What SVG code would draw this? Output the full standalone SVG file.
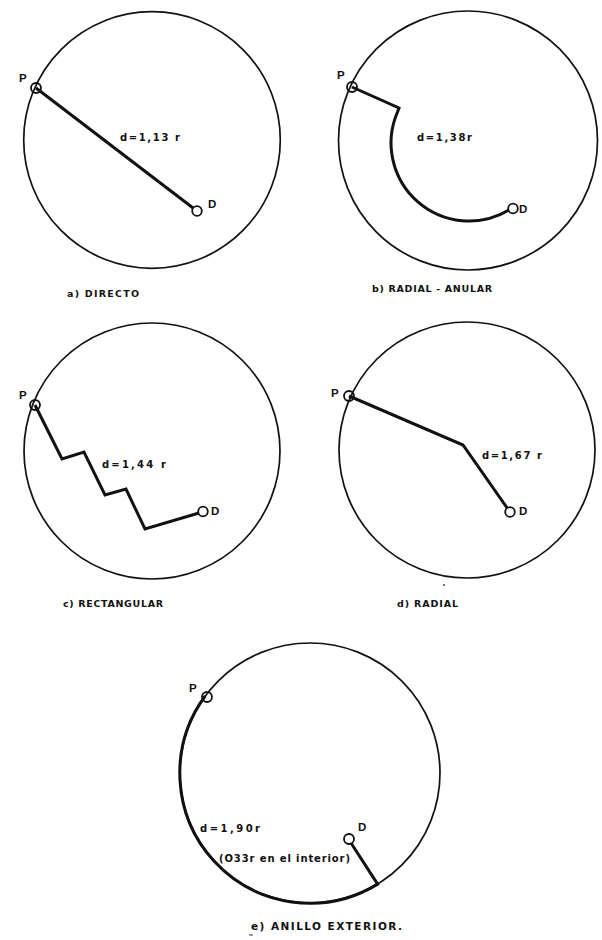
<svg xmlns="http://www.w3.org/2000/svg" width="602" height="940" viewBox="0 0 602 940">
<style>
.ring{fill:none;stroke:#111;stroke-width:1.7}
.route{fill:none;stroke:#111;stroke-width:3;stroke-linejoin:miter;stroke-linecap:butt}
.pt{fill:none;stroke:#111;stroke-width:1.8}
.dt{fill:#fff;stroke:#111;stroke-width:1.8}
.lbl{font-family:"DejaVu Sans","Liberation Sans",sans-serif;font-weight:bold;font-size:10px;fill:#111}
.cap{font-family:"DejaVu Sans","Liberation Sans",sans-serif;font-weight:bold;font-size:9.5px;fill:#111}
.pd{font-family:"Liberation Sans",Arial,sans-serif;font-weight:bold;font-size:11.5px;fill:#111}
</style>
<rect width="602" height="940" fill="#fff"/>

<g id="connectors">
  <path class="route" d="M36,88 L197,211"/>
  <path class="route" d="M352,87 L399,108 L397.5,112 A78 78 0 0 0 509,210"/>
  <path class="route" d="M35,405 L62,459 L84,452 L105,495 L126,489 L145,529 L199,513"/>
  <path class="route" d="M349,396 L463,445 L510,512"/>
  <path class="route" d="M205.2,696 A130 130 0 0 0 377.6,884.1 L351,843"/>
</g>

<g id="panel-a">
  <circle class="ring" cx="152" cy="140" r="128.3"/>
  <circle class="pt" cx="36" cy="88" r="5"/>
  <circle class="dt" cx="197" cy="211" r="4.8"/>
  <text class="pd" x="19" y="82">P</text>
  <text class="pd" x="208" y="208">D</text>
  <text class="lbl" x="120" y="141" textLength="60" lengthAdjust="spacing">d=1,13 r</text>
  <text class="cap" x="67" y="297" textLength="72" lengthAdjust="spacing">a) DIRECTO</text>
</g>

<g id="panel-b">
  <circle class="ring" cx="468" cy="140.5" r="129.5"/>
  <circle class="pt" cx="352" cy="87" r="5"/>
  <circle class="dt" cx="513" cy="208.5" r="4.8"/>
  <text class="pd" x="337" y="79">P</text>
  <text class="pd" x="519" y="213">D</text>
  <text class="lbl" x="417" y="141" textLength="55" lengthAdjust="spacing">d=1,38r</text>
  <text class="cap" x="372" y="292" textLength="120" lengthAdjust="spacing">b) RADIAL - ANULAR</text>
</g>

<g id="panel-c">
  <circle class="ring" cx="152" cy="451" r="128"/>
  <circle class="pt" cx="35" cy="405" r="5"/>
  <circle class="dt" cx="203" cy="511.5" r="4.8"/>
  <text class="pd" x="19" y="399">P</text>
  <text class="pd" x="211" y="515">D</text>
  <text class="lbl" x="102" y="468" textLength="64" lengthAdjust="spacing">d=1,44 r</text>
  <text class="cap" x="63" y="607" textLength="100" lengthAdjust="spacing">c) RECTANGULAR</text>
</g>

<g id="panel-d">
  <circle class="ring" cx="467" cy="450" r="128"/>
  <circle class="pt" cx="349" cy="396" r="5"/>
  <circle class="dt" cx="510" cy="512" r="4.8"/>
  <text class="pd" x="331" y="397">P</text>
  <text class="pd" x="519" y="515">D</text>
  <text class="lbl" x="482" y="459" textLength="60" lengthAdjust="spacing">d=1,67 r</text>
  <text class="cap" x="397" y="607" textLength="61" lengthAdjust="spacing">d) RADIAL</text>
  <circle cx="444" cy="585" r="0.9" fill="#333"/>
</g>

<g id="panel-e">
  <circle class="ring" cx="310" cy="773" r="130"/>
  <circle class="pt" cx="207" cy="697" r="5"/>
  <circle class="dt" cx="349" cy="839" r="5"/>
  <text class="pd" x="189" y="692">P</text>
  <text class="pd" x="358" y="831">D</text>
  <text class="lbl" x="200" y="832" textLength="60" lengthAdjust="spacing">d=1,90r</text>
  <text class="lbl" x="219" y="862" textLength="131" lengthAdjust="spacing">(O33r en el interior)</text>
  <text class="cap" x="251" y="930" textLength="151" lengthAdjust="spacing" style="font-size:10.5px">e) ANILLO EXTERIOR.</text>
  <path d="M249,935 L253,935" stroke="#333" stroke-width="1"/>
</g>
</svg>
